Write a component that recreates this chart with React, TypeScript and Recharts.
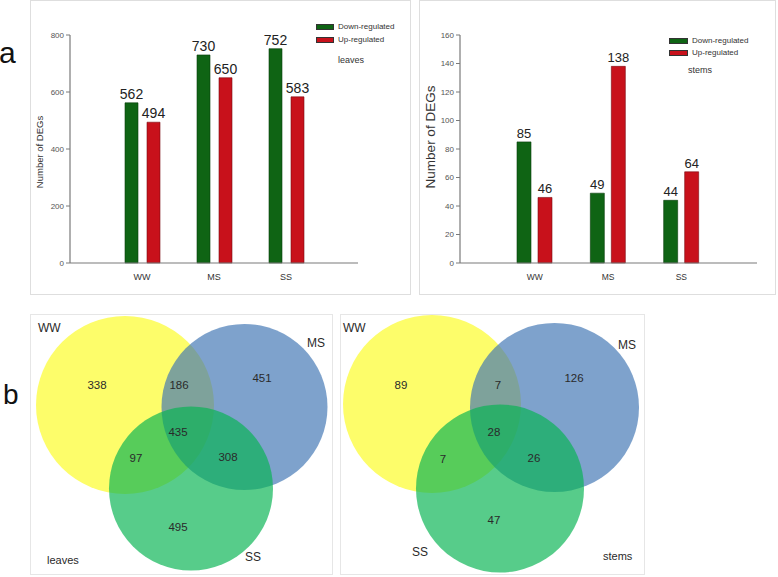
import React from 'react';
import {
  BarChart, Bar, XAxis, YAxis, LabelList, ScatterChart, Scatter,
} from 'recharts';

// ---------- data ----------
const categories = ['WW', 'MS', 'SS'];
const leavesDown = [562, 730, 752];
const leavesUp = [494, 650, 583];
const stemsDown = [85, 49, 44];
const stemsUp = [46, 138, 64];
const leavesTicks = [0, 200, 400, 600, 800];
const stemsTicks = [0, 20, 40, 60, 80, 100, 120, 140, 160];
const seriesNames = ['Down-regulated', 'Up-regulated'];

const vennSets = ['WW', 'MS', 'SS'];
// regions: WW only, WW∩MS, MS only, all three, WW∩SS, MS∩SS, SS only
const leavesCounts = [338, 186, 451, 435, 97, 308, 495];
const stemsCounts = [89, 7, 126, 28, 7, 26, 47];

// ---------- layout (positions in panel coordinates) ----------
const leavesCircleLayout = [
  { x: 95, y: 91, r: 89 },
  { x: 214.5, y: 93, r: 83 },
  { x: 161, y: 174.5, r: 82 },
];
const stemsCircleLayout = [
  { x: 92, y: 90, r: 89 },
  { x: 214.5, y: 93.5, r: 84.5 },
  { x: 160, y: 174.5, r: 84 },
];
const leavesCountPos = [[67, 71], [149, 71], [232, 64], [148, 118], [106, 144], [198, 143], [148, 213]];
const stemsCountPos = [[61, 71], [158, 71], [234, 64], [154, 118], [103, 145], [194, 144], [154, 206]];
const leavesSetPos = [[8, 14], [277, 29], [215, 243]];
const stemsSetPos = [[3, 14], [278, 31], [72, 238]];

const GREEN = '#0f6414';
const RED = '#c8111b';
const vennColors = ['#fdfd6a', '#3e75b3', '#08b453'];
const vennOpacity = [1, 0.67, 0.68];
const FONT = '"Liberation Sans", Arial, sans-serif';

const leavesRows = categories.map((c, i) => ({ cat: c, down: leavesDown[i], up: leavesUp[i] }));
const stemsRows = categories.map((c, i) => ({ cat: c, down: stemsDown[i], up: stemsUp[i] }));

const box = (left: number, top: number, width: number, height: number, color = '#dedede'): React.CSSProperties => ({
  position: 'absolute', left, top, width, height, border: `1px solid ${color}`, boxSizing: 'border-box',
});

function RotLabel({ cx, cy, size, text }: { cx: number; cy: number; size: number; text: string }) {
  return (
    <div style={{
      position: 'absolute', left: cx, top: cy, transform: 'translate(-50%,-50%) rotate(-90deg)',
      whiteSpace: 'nowrap', fontSize: size, lineHeight: 1, color: '#333',
    }}>{text}</div>
  );
}

function LegendBlock({ x, y, sw, gap, textX, title, titleX, titleY, titleSize }: any) {
  return (
    <>
      {seriesNames.map((n, i) => (
        <React.Fragment key={n}>
          <div style={{ position: 'absolute', left: x, top: y + i * gap, width: sw, height: 6, background: i === 0 ? GREEN : RED, border: '0.5px solid #333', boxSizing: 'border-box' }} />
          <div style={{ position: 'absolute', left: textX, top: y + i * gap - 2, fontSize: 8, lineHeight: '10px', color: '#333', whiteSpace: 'nowrap' }}>{n}</div>
        </React.Fragment>
      ))}
      <div style={{ position: 'absolute', left: titleX, top: titleY - 5, fontSize: titleSize, lineHeight: '10px', color: '#333' }}>{title}</div>
    </>
  );
}

function DegBar({ rows, ticks, max, width, pad, barSize, barGap, marginRight, yWidth, labelSize, xSize }: any) {
  return (
    <BarChart width={width} height={294} data={rows} margin={{ top: 35, right: marginRight, bottom: 11, left: 0 }}
      barGap={barGap}>
      <XAxis dataKey="cat" padding={pad} tickLine={false} height={20} tickMargin={5}
        axisLine={{ stroke: '#7a7a7a', strokeWidth: 1.2 }} tick={{ fontSize: xSize, fill: '#333' }} />
      <YAxis domain={[0, max]} ticks={ticks} width={yWidth} tickSize={4} tickMargin={2}
        axisLine={{ stroke: '#7a7a7a', strokeWidth: 1.2 }} tickLine={{ stroke: '#7a7a7a' }}
        tick={{ fontSize: 8, fill: '#555' }} interval={0} />
      <Bar dataKey="down" fill={GREEN} stroke="#083d0b" strokeWidth={0.6} barSize={barSize} isAnimationActive={false}>
        <LabelList dataKey="down" position="top" offset={4} fontSize={labelSize} fill="#222" />
      </Bar>
      <Bar dataKey="up" fill={RED} stroke="#7a0a10" strokeWidth={0.6} barSize={barSize} isAnimationActive={false}>
        <LabelList dataKey="up" position="top" offset={4} fontSize={labelSize} fill="#222" />
      </Bar>
    </BarChart>
  );
}

function Venn({ width, height, circles, counts, countPos, setPos, title, titlePos }: any) {
  const countData = counts.map((v: number, i: number) => ({ x: countPos[i][0], y: countPos[i][1], label: String(v) }));
  const setData = vennSets.map((s, i) => ({ x: setPos[i][0], y: setPos[i][1], label: s }));
  const titleData = [{ x: titlePos[0], y: titlePos[1], label: title }];
  const textShape = (size: number, anchor: string) => (p: any) => (
    <text x={p.cx} y={p.cy} textAnchor={anchor} dominantBaseline="central" fontSize={size} fill="#2a2a2a">{p.payload.label}</text>
  );
  return (
    <ScatterChart width={width} height={height} margin={{ top: 0, right: 0, bottom: 0, left: 0 }}>
      <XAxis type="number" dataKey="x" domain={[0, width]} hide allowDataOverflow />
      <YAxis type="number" dataKey="y" domain={[0, height]} hide reversed allowDataOverflow />
      {circles.map((c: any, i: number) => (
        <Scatter key={i} data={[c]} isAnimationActive={false}
          shape={(p: any) => <circle cx={p.cx} cy={p.cy} r={p.payload.r} fill={vennColors[i]} fillOpacity={vennOpacity[i]} />} />
      ))}
      <Scatter data={countData} isAnimationActive={false} shape={textShape(11.5, 'middle')} />
      <Scatter data={setData} isAnimationActive={false} shape={textShape(12, 'start')} />
      <Scatter data={titleData} isAnimationActive={false} shape={textShape(11, 'start')} />
    </ScatterChart>
  );
}

export default function App() {
  return (
    <div style={{ position: 'absolute', left: 0, top: 0, width: 778, height: 577, background: '#fff', fontFamily: FONT, overflow: 'hidden' }}>
      {/* panel a, leaves */}
      <div style={box(30, 0, 381, 295)} />
      <div style={{ position: 'absolute', left: 30, top: 0 }}>
        <DegBar rows={leavesRows} ticks={leavesTicks} max={800} width={380} pad={{ left: 36, right: 36 }}
          barSize={13} barGap={9} marginRight={52} yWidth={40} labelSize={14} xSize={9} />
      </div>
      <RotLabel cx={40} cy={152} size={9.5} text="Number of DEGs" />
      <LegendBlock x={316} y={24} sw={18} gap={13} textX={338} title="leaves" titleX={338} titleY={60} titleSize={9} />

      {/* panel a, stems */}
      <div style={box(419, 0, 357, 295)} />
      <div style={{ position: 'absolute', left: 419, top: 0 }}>
        <DegBar rows={stemsRows} ticks={stemsTicks} max={160} width={356} pad={{ left: 38, right: 39 }}
          barSize={14} barGap={7} marginRight={18} yWidth={41} labelSize={13} xSize={8.5} />
      </div>
      <RotLabel cx={431} cy={137} size={13.5} text="Number of DEGs" />
      <LegendBlock x={669} y={38} sw={19} gap={12} textX={692} title="stems" titleX={688} titleY={70} titleSize={9} />

      {/* panel b */}
      <div style={box(30, 314, 303, 261, '#e6e6e6')} />
      <div style={{ position: 'absolute', left: 30, top: 314 }}>
        <Venn width={303} height={261} circles={leavesCircleLayout} counts={leavesCounts} countPos={leavesCountPos}
          setPos={leavesSetPos} title="leaves" titlePos={[17, 246]} />
      </div>
      <div style={box(340, 314, 305, 261, '#e6e6e6')} />
      <div style={{ position: 'absolute', left: 340, top: 314 }}>
        <Venn width={305} height={261} circles={stemsCircleLayout} counts={stemsCounts} countPos={stemsCountPos}
          setPos={stemsSetPos} title="stems" titlePos={[263, 242]} />
      </div>

      <div style={{ position: 'absolute', left: -1, top: 37.6, fontSize: 30, lineHeight: '30px', color: '#111' }}>a</div>
      <div style={{ position: 'absolute', left: 3, top: 381, fontSize: 28, lineHeight: '28px', color: '#111' }}>b</div>
    </div>
  );
}
